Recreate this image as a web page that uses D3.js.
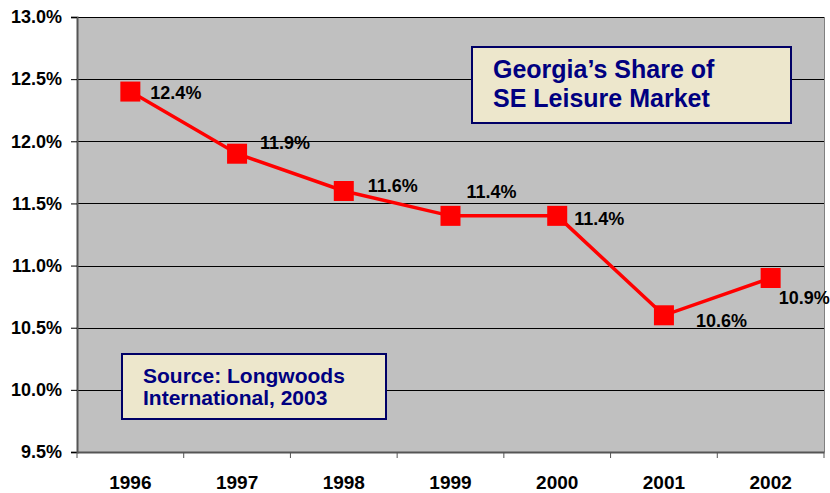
<!DOCTYPE html>
<html>
<head>
<meta charset="utf-8">
<script src="https://cdn.jsdelivr.net/npm/d3@7"></script>
<style>
  body { margin: 0; background: #fff; }
  text { font-family: "Liberation Sans", Arial, sans-serif; font-weight: bold; }
</style>
</head>
<body>
<div id="chart"></div>
<script>
/* DATA */
const years = ["1996", "1997", "1998", "1999", "2000", "2001", "2002"];
const shares = [12.4, 11.9, 11.6, 11.4, 11.4, 10.6, 10.9];
const yTicks = [9.5, 10.0, 10.5, 11.0, 11.5, 12.0, 12.5, 13.0];
// label nudges (px) relative to each marker
const labelDx = [20, 23, 24, 16, 17, 32, 8];
const labelDy = [1, -11, -5, -24, 3, 5, 20];
const titleLines = ["Georgia\u2019s Share of", "SE Leisure Market"];
const sourceLines = ["Source: Longwoods", "International, 2003"];

const width = 830, height = 493;
const margin = { top: 17, right: 6, bottom: 41, left: 77 };

const svg = d3.select("#chart").append("svg")
  .attr("width", width)
  .attr("height", height);

const xScale = d3.scaleBand()
  .domain(years)
  .range([margin.left, width - margin.right]);

const yScale = d3.scaleLinear()
  .domain([9.5, 13.0])
  .range([height - margin.bottom, margin.top]);

// plot background
svg.append("rect")
  .attr("x", margin.left)
  .attr("y", margin.top)
  .attr("width", width - margin.left - margin.right)
  .attr("height", height - margin.top - margin.bottom)
  .attr("fill", "#c0c0c0");

// gridlines
svg.append("g")
  .selectAll("line")
  .data(yTicks.slice(1))
  .join("line")
  .attr("x1", margin.left)
  .attr("x2", width - margin.right)
  .attr("y1", d => Math.round(yScale(d)) + 0.5)
  .attr("y2", d => Math.round(yScale(d)) + 0.5)
  .attr("stroke", "#000")
  .attr("stroke-width", 1);

// right edge
svg.append("line")
  .attr("x1", width - margin.right + 0.5).attr("x2", width - margin.right + 0.5)
  .attr("y1", margin.top).attr("y2", height - margin.bottom)
  .attr("stroke", "#808080");

// y axis
const yAxis = svg.append("g")
  .attr("transform", `translate(${margin.left},0)`)
  .call(d3.axisLeft(yScale)
    .tickValues(yTicks)
    .tickSize(6)
    .tickPadding(9)
    .tickFormat(d => d.toFixed(1) + "%"));
yAxis.select(".domain").attr("stroke", "#555").attr("stroke-width", 2);
yAxis.selectAll(".tick line").attr("stroke", "#000");
yAxis.selectAll(".tick text").attr("font-size", 18).attr("fill", "#000")
  .style("font-family", "'Liberation Sans', Arial, sans-serif").style("font-weight", "bold");

// x axis, ticks on the category boundaries
const xAxis = svg.append("g")
  .attr("transform", `translate(0,${height - margin.bottom})`)
  .call(d3.axisBottom(xScale).tickSize(0).tickPadding(24));
xAxis.select(".domain").attr("stroke", "#555").attr("stroke-width", 2);
xAxis.selectAll(".tick text").attr("font-size", 19).attr("fill", "#000")
  .style("font-family", "'Liberation Sans', Arial, sans-serif").style("font-weight", "bold");
xAxis.selectAll(".bound")
  .data(years.concat(["end"]))
  .join("line")
  .attr("class", "bound")
  .attr("x1", (d, i) => xScale.range()[0] + i * xScale.bandwidth())
  .attr("x2", (d, i) => xScale.range()[0] + i * xScale.bandwidth())
  .attr("y1", 0).attr("y2", 6)
  .attr("stroke", "#555");

// line + markers
const pts = years.map((y, i) => ({ year: y, v: shares[i], i }));
const cx = d => xScale(d.year) + xScale.bandwidth() / 2;

svg.append("path")
  .datum(pts)
  .attr("fill", "none")
  .attr("stroke", "#ff0000")
  .attr("stroke-width", 3.5)
  .attr("d", d3.line().x(cx).y(d => yScale(d.v)));

svg.append("g")
  .selectAll("rect")
  .data(pts)
  .join("rect")
  .attr("x", d => cx(d) - 10)
  .attr("y", d => yScale(d.v) - 10)
  .attr("width", 20)
  .attr("height", 20)
  .attr("fill", "#ff0000");

svg.append("g")
  .selectAll("text")
  .data(pts)
  .join("text")
  .attr("x", d => cx(d) + labelDx[d.i])
  .attr("y", d => yScale(d.v) + labelDy[d.i])
  .attr("dy", "0.35em")
  .attr("font-size", 18)
  .attr("fill", "#000")
  .text(d => d.v.toFixed(1) + "%");

// annotation boxes
function noteBox(x, y, w, h, lines, size, lineGap, tx, ty) {
  const g = svg.append("g");
  g.append("rect")
    .attr("x", x).attr("y", y).attr("width", w).attr("height", h)
    .attr("fill", "#ede7cc")
    .attr("stroke", "#000066")
    .attr("stroke-width", 2);
  g.selectAll("text")
    .data(lines)
    .join("text")
    .attr("x", tx)
    .attr("y", (d, i) => ty + i * lineGap)
    .attr("font-size", size)
    .attr("fill", "#000080")
    .text(d => d);
}
noteBox(472, 47, 319, 76, titleLines, 25, 28.5, 493, 78);
noteBox(122, 354, 264, 65, sourceLines, 21, 21.5, 143, 383);
</script>
</body>
</html>
